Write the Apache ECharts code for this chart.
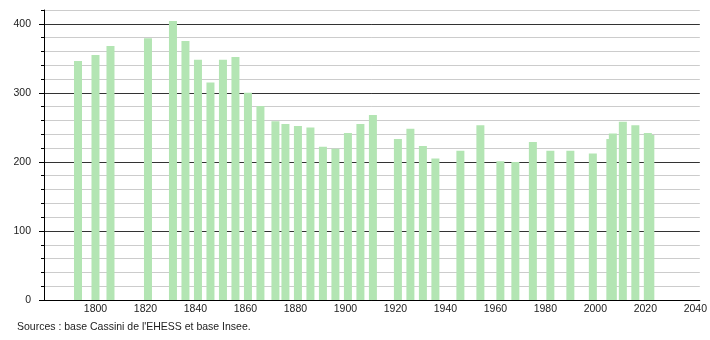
<!DOCTYPE html>
<html><head><meta charset="utf-8">
<script src="https://cdn.jsdelivr.net/npm/echarts@6/dist/echarts.min.js"></script>
<style>html,body{margin:0;padding:0;background:#fff}#c{width:710px;height:340px}</style>
</head><body><div id="c"></div>
<script>
const years = [1793,1800,1806,1821,1831,1836,1841,1846,1851,1856,1861,1866,1872,1876,1881,1886,1891,1896,1901,1906,1911,1921,1926,1931,1936,1946,1954,1962,1968,1975,1982,1990,1999,2006,2007,2011,2016,2021,2022];
const population = [346,355,368,379,404,375,348,315,348,352,300,281,259,255,252,250,222,219,242,255,268,233,248,223,205,216,253,201,200,229,216,216,212,233,241,258,253,242,239];
const xTickLabels = [1800,1820,1840,1860,1880,1900,1920,1940,1960,1980,2000,2020,2040];
const yTickLabels = [0,100,200,300,400];
const sourceText = "Sources : base Cassini de l'EHESS et base Insee.";

const font = 'Liberation Sans, Arial, sans-serif';
const chart = echarts.init(document.getElementById('c'), null, {renderer:'canvas'});
chart.setOption({
  animation: false,
  backgroundColor: '#fff',
  title: {text: sourceText, left: 17, top: 322, padding: 0,
    textStyle: {fontSize: 10.5, fontWeight: 'normal', color: '#222', fontFamily: font}},
  grid: {left: 44, right: 10, top: 10, bottom: 40},
  xAxis: {type: 'value', min: 1779.4, max: 2041.8,
    axisLine: {show: true, lineStyle: {color: '#000', width: 1}},
    axisTick: {show: false}, splitLine: {show: false},
    axisLabel: {customValues: xTickLabels, formatter: v => String(v), color: '#222', fontSize: 10.5, margin: 4, fontFamily: font}},
  yAxis: [
    {type: 'value', min: 0, max: 420, interval: 20,
      axisLine: {show: true, lineStyle: {color: '#000', width: 1}},
      axisTick: {show: true, length: 3, lineStyle: {color: '#000'}},
      axisLabel: {customValues: yTickLabels, formatter: v => String(v), color: '#222', fontSize: 10.5, margin: 13, fontFamily: font},
      splitLine: {show: true, lineStyle: {color: ['#333','#ccc','#ccc','#ccc','#ccc'], width: 1}}},
    {type: 'value', min: 0, max: 420, position: 'left', offset: 0,
      axisLine: {show: false},
      axisTick: {show: true, length: 5, customValues: yTickLabels, lineStyle: {color: '#000'}},
      axisLabel: {show: false}, splitLine: {show: false}}
  ],
  series: [{type: 'bar', yAxisIndex: 0, barWidth: 8,
    itemStyle: {color: '#b3e5b3'},
    data: years.map((y, i) => [y, population[i]])}]
});
</script></body></html>
